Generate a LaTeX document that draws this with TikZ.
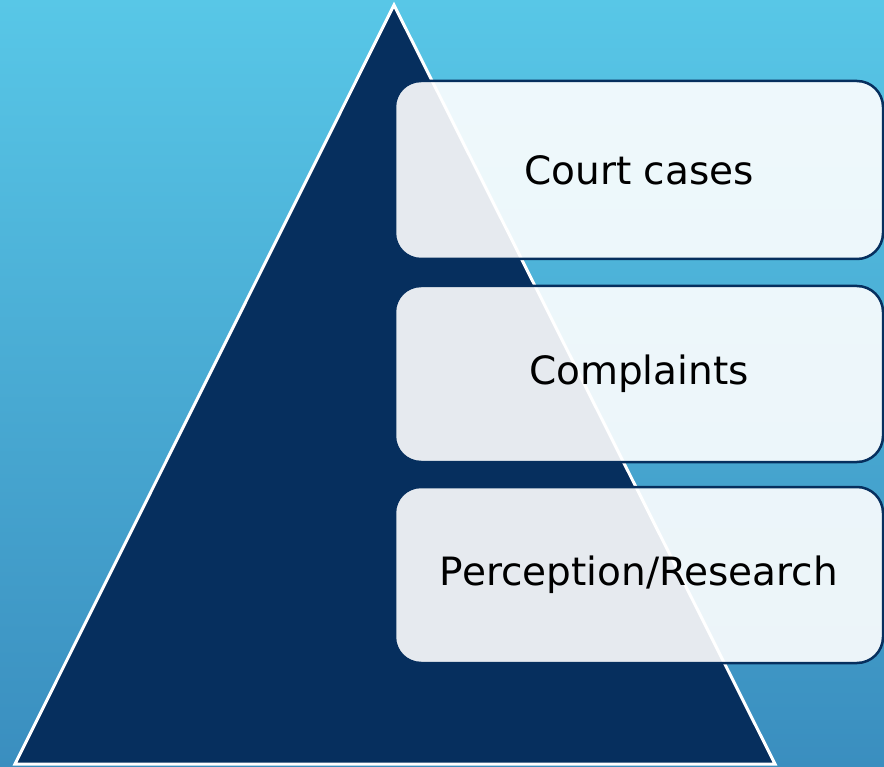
\documentclass[tikz,border=0pt]{standalone}
\usepackage{fontspec}
\setmainfont{DejaVu Sans}
\definecolor{sky}{HTML}{58C7E7}
\definecolor{deep}{HTML}{3A8EBF}
\definecolor{navy}{HTML}{062F5E}

\begin{document}
\begin{tikzpicture}[x=1pt,y=-1pt]
\useasboundingbox (0,0) rectangle (884,767);
\shade[top color=sky, bottom color=deep] (0,0) rectangle (884,767);

% pyramid
\draw[fill=navy, draw=white, line width=3pt, line join=miter]
(394,5) coordinate (T) -- (775,764) coordinate (R) -- (15,764) coordinate (L) -- cycle;

\draw[navy, line width=2.5pt]

(639,170) node[fill=white, fill opacity=0.9, text opacity=1, draw, rounded corners=26pt, minimum width=488pt, minimum height=178pt] (A) {}
(639,374) node[fill=white, fill opacity=0.9, text opacity=1, draw, rounded corners=26pt, minimum width=488pt, minimum height=176pt] (B) {}
(639,575) node[fill=white, fill opacity=0.9, text opacity=1, draw, rounded corners=26pt, minimum width=488pt, minimum height=176pt] (C) {};

\node[text=black, font=\fontsize{39}{44}\selectfont] at (A) {Court cases};
\node[text=black, font=\fontsize{39}{44}\selectfont] at (B) {Complaints};
\node[text=black, font=\fontsize{39}{44}\selectfont] at (C) {Perception/Research};
\end{tikzpicture}
\end{document}
